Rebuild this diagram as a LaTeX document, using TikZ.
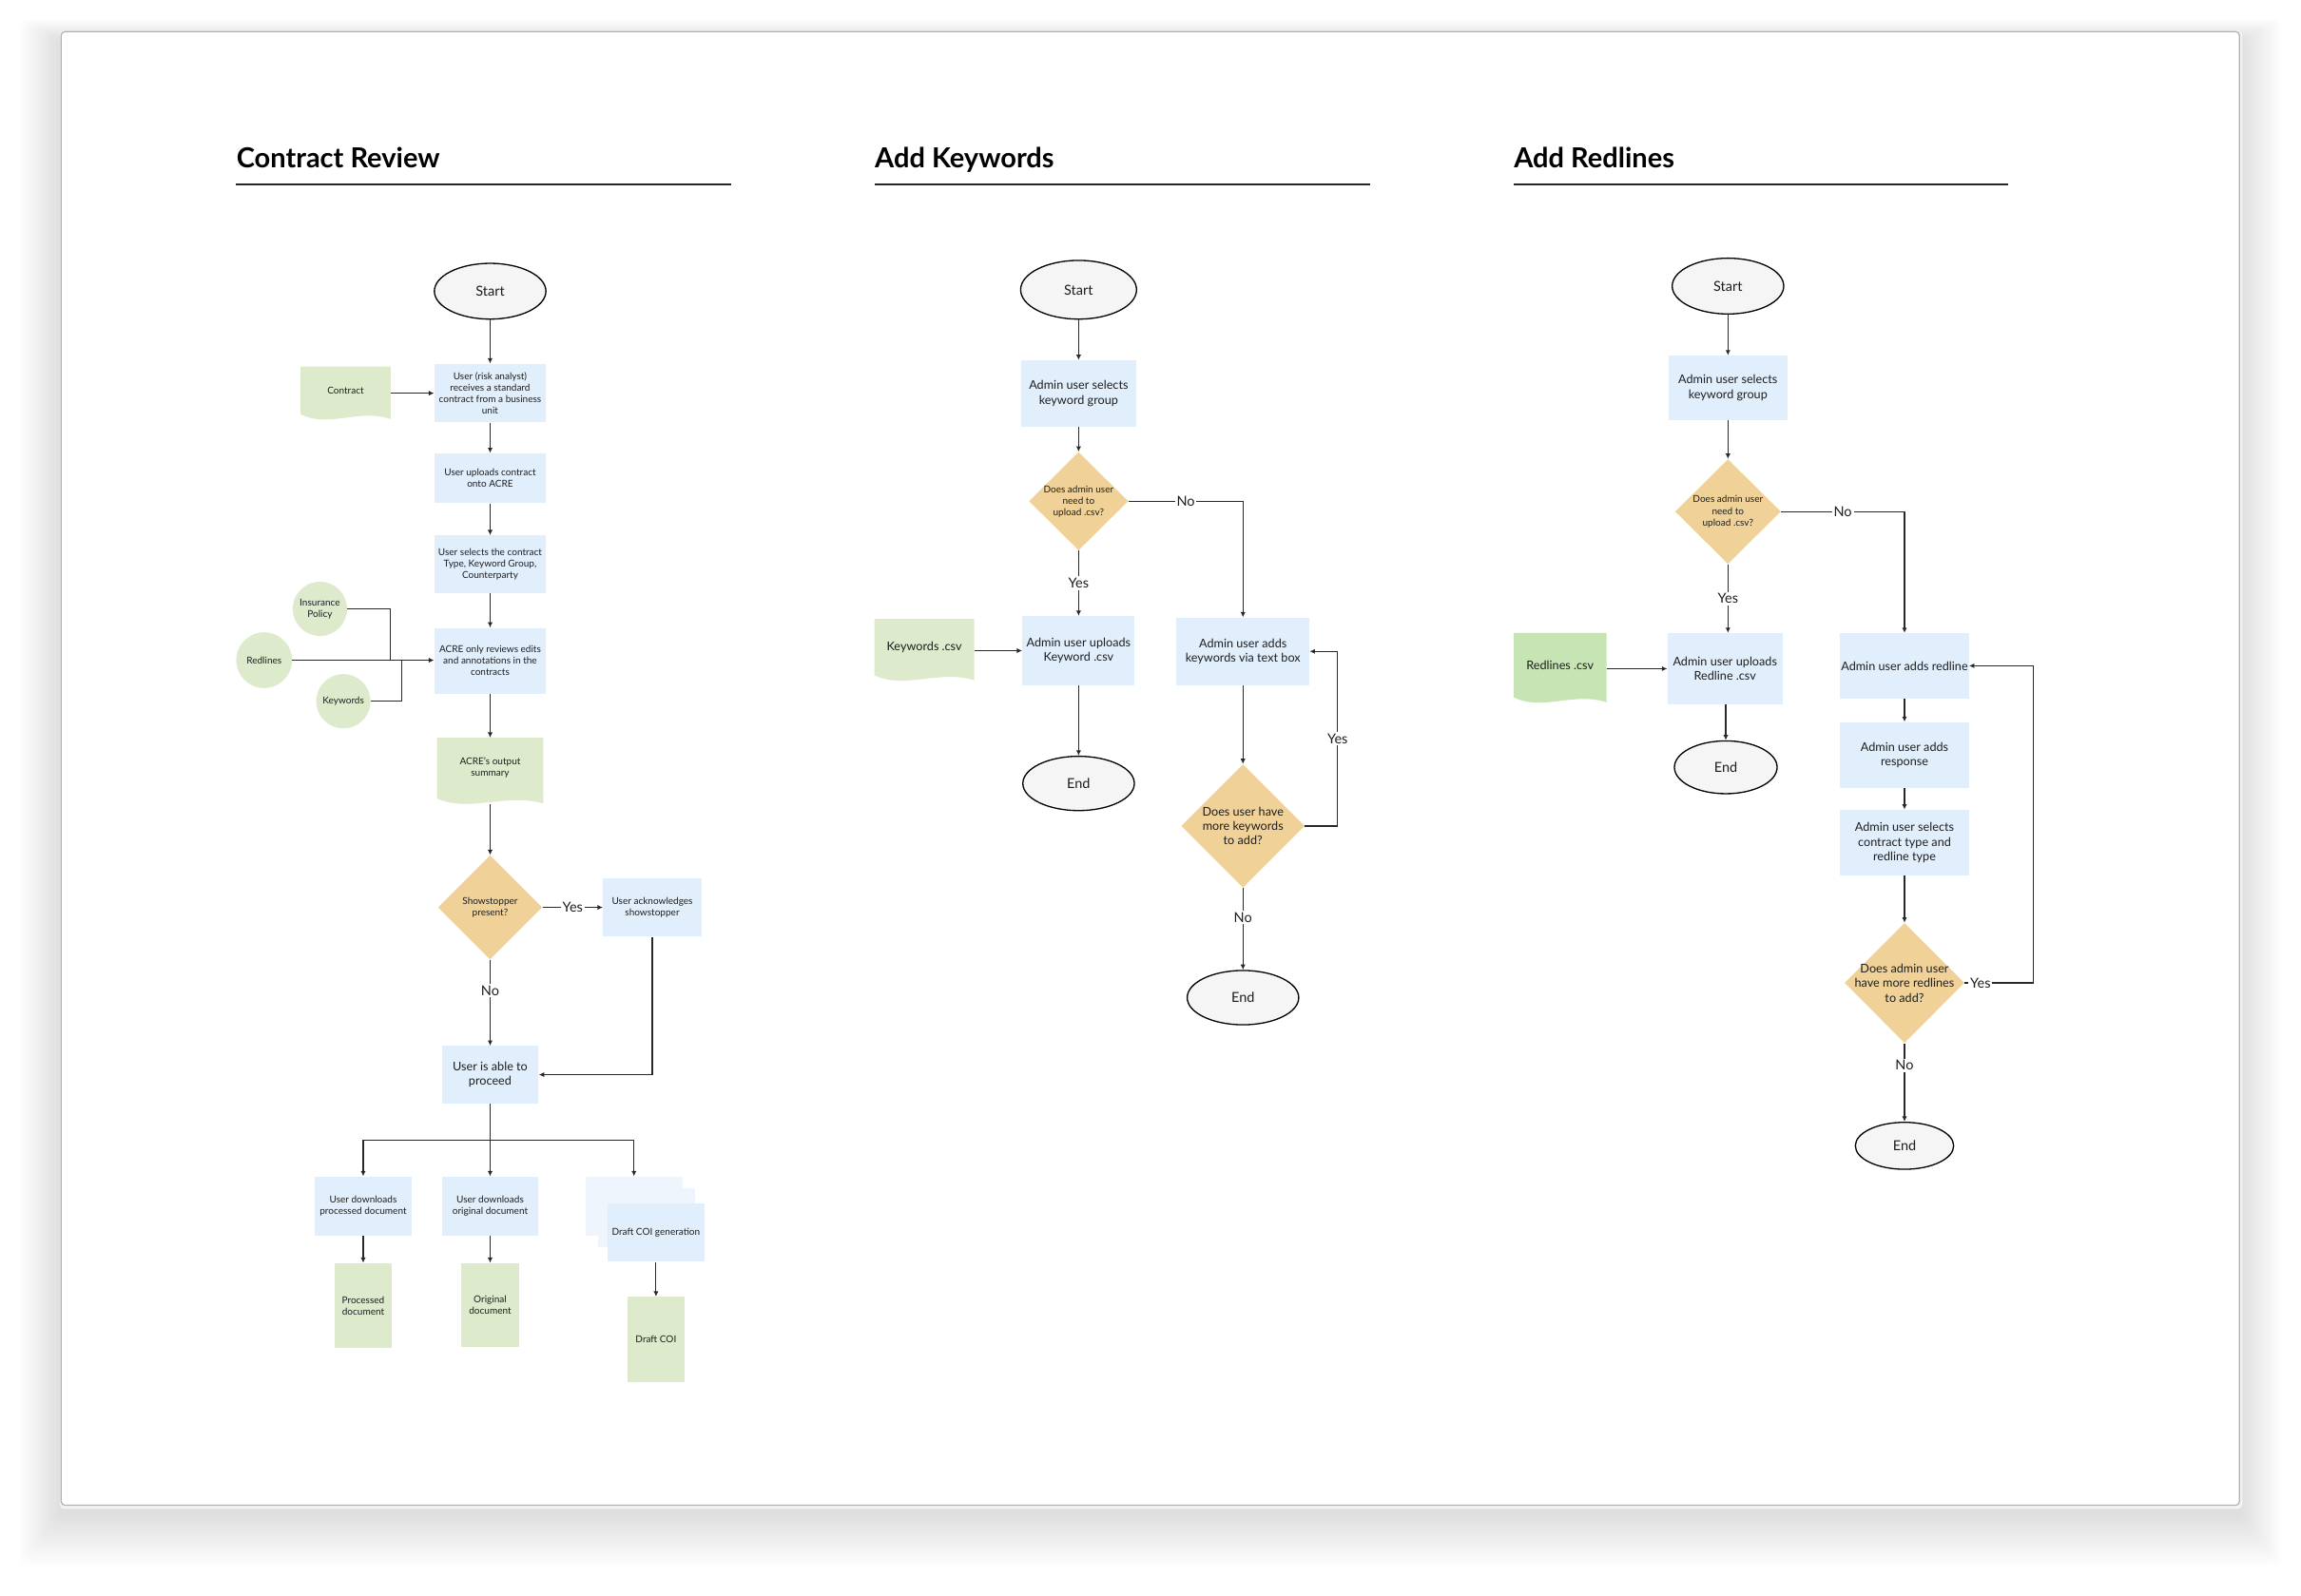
\documentclass[tikz,border=0pt]{standalone}
\usepackage{fontspec}
\setmainfont{Lato}
\usetikzlibrary{shapes.geometric,arrows.meta,calc,backgrounds}
\definecolor{boxblue}{RGB}{225,239,253}
\definecolor{boxblueL}{RGB}{238,245,253}
\definecolor{docgreen}{RGB}{221,234,204}
\definecolor{docgreenB}{RGB}{198,228,180}
\definecolor{decis}{RGB}{240,210,152}
\definecolor{termfill}{RGB}{245,245,245}
\definecolor{ink}{RGB}{30,30,30}
\definecolor{linec}{RGB}{40,40,40}
\newcommand\fntS{\fontsize{6.5}{7.8}\selectfont}
\newcommand\fntM{\fontsize{8.2}{10}\selectfont}
\newcommand\fntL{\fontsize{9.4}{10}\selectfont}
\newcommand\fntT{\fontsize{18.8}{22}\selectfont\bfseries}
\newcommand\docwave[2]{%
  \fill[#2] (#1.north west) -- (#1.north east) -- ($(#1.south east)+(0,3.5)$)
   .. controls ($(#1.south west)!0.65!(#1.south east)+(0,-4)$) and ($(#1.south west)!0.3!(#1.south east)+(0,10)$) .. (#1.south west) -- cycle;}
\tikzset{
  sz/.style 2 args={minimum width=#1pt, minimum height=#2pt},
  proc/.style={rectangle, fill=boxblue, align=center, inner sep=0pt, text=ink},
  docn/.style={rectangle, align=center, inner sep=0pt, text=ink},
  outbox/.style={rectangle, fill=docgreen, align=center, inner sep=0pt, text=ink},
  circ/.style={circle, fill=docgreen, align=center, inner sep=0pt, text=ink},
  decision/.style={diamond, fill=decis, inner sep=0pt},
  dtext/.style={align=center, inner sep=0pt, text=ink},
  term/.style={ellipse, fill=termfill, draw=black, line width=0.85pt, inner sep=0pt, text=ink, font=\fntL},
  conn/.style={draw=linec, line width=0.75pt, -{Latex[length=3.6pt,width=3.4pt]}},
  plain/.style={draw=linec, line width=0.75pt},
  lab/.style={fill=white, inner sep=1.2pt, font=\fntL, text=ink},
  title/.style={anchor=base west, font=\fntT, inner sep=0pt, text=black},
  rule/.style={draw=black!85, line width=1.1pt},
}
\begin{document}
\begin{tikzpicture}[x=1pt, y=-1pt]
\useasboundingbox (0,0) rectangle (1568,1087.3);
\begin{scope}[on background layer]
  \fill[white] (0,0) rectangle (1568,1087.3);
  \foreach \i in {1,...,16} {
    \fill[black, opacity=0.006, rounded corners=4pt] (41.7-1.8*\i, 21.6-0.9*\i+6) rectangle (1526+1.8*\i, 1026+2.2*\i+6);
  }
  \fill[black!5, rounded corners=3pt] (40.7,20.6) rectangle (1528,1028.5);
  \draw[draw=black!30, fill=white, line width=0.8pt, rounded corners=2.5pt] (41.7,21.6) rectangle (1526,1026);
\end{scope}

% titles
\node[title] (t1) at (161,114.5) {Contract Review};
\node[title] (t2) at (596,114.5) {Add Keywords};
\node[title] (t3) at (1031.5,114.5) {Add Redlines};
\draw[rule] (161,125.7) -- (498,125.7);
\draw[rule] (596,125.7) -- (933.5,125.7);
\draw[rule] (1031.5,125.7) -- (1368.5,125.7);

% ---------------- Contract Review
\node[term, sz={76}{38}] (cr_start) at (334,198.5) {Start};
\node[proc, font=\fntS, sz={76}{40}] (cr_b1) at (334,268) {User (risk analyst)\\receives a standard\\contract from a business\\unit};
\node[docn, font=\fntS, sz={61}{32}] (cr_contract) at (235.5,266) {Contract};
\node[proc, font=\fntS, sz={76}{34}] (cr_b2) at (334,326) {User uploads contract\\onto ACRE};
\node[proc, font=\fntS, sz={76}{39}] (cr_b3) at (334,384.5) {User selects the contract\\Type, Keyword Group,\\Counterparty};
\node[proc, font=\fntS, sz={76}{45}] (cr_b4) at (334,450.5) {ACRE only reviews edits\\and annotations in the\\contracts};
\node[circ, font=\fntS, minimum size=37pt] (cr_ins) at (218,415) {Insurance\\Policy};
\node[circ, font=\fntS, minimum size=38pt] (cr_red) at (180,450) {Redlines};
\node[circ, font=\fntS, minimum size=37pt] (cr_kw) at (234,478) {Keywords};
\node[docn, font=\fntS, sz={72}{41}] (cr_out) at (334,523.5) {ACRE's output\\summary};
\node[decision, sz={71}{71}] (cr_d1) at (334,618.5) {};
\node[dtext, font=\fntS] (cr_d1t) at (cr_d1) {Showstopper\\present?};
\node[proc, font=\fntS, sz={67}{40}] (cr_ack) at (444.5,618.5) {User acknowledges\\showstopper};
\node[proc, font=\fntM, sz={66}{39}] (cr_proc) at (334,732.5) {User is able to\\proceed};
\node[proc, font=\fntS, sz={66}{40}] (cr_dl1) at (247.5,822) {User downloads\\processed document};
\node[proc, font=\fntS, sz={66}{40}] (cr_dl2) at (334,822) {User downloads\\original document};
\node[proc, fill=boxblueL, sz={66}{40}] (cr_st1) at (432,822) {};
\node[proc, fill=boxblueL, sz={66}{40}] (cr_st2) at (440.6,830) {};
\node[proc, font=\fntS, sz={66}{40}] (cr_st3) at (447,840) {Draft COI generation};
\node[outbox, font=\fntS, sz={39}{58}] (cr_pd) at (247.5,890) {Processed\\document};
\node[outbox, font=\fntS, sz={39}{57}] (cr_od) at (334,889.5) {Original\\document};
\node[outbox, font=\fntS, sz={39}{58}] (cr_dc) at (447,913) {Draft COI};
\coordinate (cr_j1) at (266,450);
\coordinate (cr_j2) at (274,450);
\coordinate (cr_br) at (334,777);

% ---------------- Add Keywords
\node[term, sz={79}{40}] (ak_start) at (735,197.5) {Start};
\node[proc, font=\fntM, sz={78.5}{45.4}] (ak_b1) at (735,268.3) {Admin user selects\\keyword group};
\node[decision, sz={67.6}{67}] (ak_d1) at (735,341.6) {};
\node[dtext, font=\fntS] (ak_d1t) at (ak_d1) {Does admin user\\need to\\upload .csv?};
\node[docn, font=\fntM, sz={67.7}{38}] (ak_csv) at (629.85,441) {Keywords .csv};
\node[proc, font=\fntM, sz={76.5}{47}] (ak_b2) at (735,443.5) {Admin user uploads\\Keyword .csv};
\node[proc, font=\fntM, sz={90.5}{46}] (ak_b3) at (847,444) {Admin user adds\\keywords via text box};
\node[term, sz={76}{37}] (ak_end1) at (735,534) {End};
\node[decision, sz={84}{84}] (ak_d2) at (847,563) {};
\node[dtext, font=\fntM] (ak_d2t) at (ak_d2) {Does user have\\more keywords\\to add?};
\node[term, sz={76}{37}] (ak_end2) at (847,680) {End};

% ---------------- Add Redlines
\node[term, sz={76}{38}] (ar_start) at (1177.5,195) {Start};
\node[proc, font=\fntM, sz={80.6}{43.8}] (ar_b1) at (1177.5,264.3) {Admin user selects\\keyword group};
\node[decision, sz={72}{71.4}] (ar_d1) at (1177.5,348.7) {};
\node[dtext, font=\fntS] (ar_d1t) at (ar_d1) {Does admin user\\need to\\upload .csv?};
\node[docn, font=\fntM, sz={62.8}{43.4}] (ar_csv) at (1063.1,453.3) {Redlines .csv};
\node[proc, font=\fntM, sz={78.4}{48.4}] (ar_b2) at (1175.5,455.8) {Admin user uploads\\Redline .csv};
\node[term, sz={70}{36}] (ar_end1) at (1176,523) {End};
\node[proc, font=\fntM, sz={87.6}{44.4}] (ar_b3) at (1297.8,453.8) {Admin user adds redline};
\node[proc, font=\fntM, sz={87.8}{45}] (ar_b4) at (1297.8,514.75) {Admin user adds\\response};
\node[proc, font=\fntM, sz={87.8}{44.8}] (ar_b5) at (1297.8,574.4) {Admin user selects\\contract type and\\redline type};
\node[decision, sz={81.6}{81.8}] (ar_d2) at (1297.8,670) {};
\node[dtext, font=\fntM] (ar_d2t) at (ar_d2) {Does admin user\\have more redlines\\to add?};
\node[term, sz={67}{32}] (ar_end2) at (1297.8,781) {End};

% document shapes
\begin{scope}[on background layer]
  \docwave{cr_contract}{docgreen}
  \docwave{cr_out}{docgreen}
  \docwave{ak_csv}{docgreen}
  \docwave{ar_csv}{docgreenB}
\end{scope}

% ---------------- connectors: Contract Review
\draw[conn] (cr_start) -- (cr_b1);
\draw[conn] (cr_contract.east |- cr_b1) -- (cr_b1);
\draw[conn] (cr_b1) -- (cr_b2);
\draw[conn] (cr_b2) -- (cr_b3);
\draw[conn] (cr_b3) -- (cr_b4);
\draw[plain] (cr_ins) -| (cr_j1);
\draw[plain] (cr_kw) -| (cr_j2);
\draw[conn] (cr_red) -- (cr_red -| cr_b4.west);
\draw[conn] (cr_b4) -- (cr_out);
\draw[conn] ([yshift=-4pt]cr_out.south) -- (cr_d1);
\draw[conn] (cr_d1) -- node[lab]{Yes} (cr_ack);
\draw[conn] (cr_d1) -- node[lab, pos=0.36]{No} (cr_proc);
\draw[conn] (cr_ack) |- (cr_proc);
\draw[plain] (cr_proc) -- (cr_br);
\draw[conn] (cr_br) -| (cr_dl1);
\draw[conn] (cr_br) -- (cr_dl2);
\draw[conn] (cr_br) -| (cr_st1);
\draw[conn] (cr_dl1) -- (cr_pd);
\draw[conn] (cr_dl2) -- (cr_od);
\draw[conn] (cr_st3) -- (cr_dc);

% ---------------- connectors: Add Keywords
\draw[conn] (ak_start) -- (ak_b1);
\draw[conn] (ak_b1) -- (ak_d1);
\draw[conn] (ak_d1) -| node[lab, pos=0.25]{No} (ak_b3);
\draw[conn] (ak_d1) -- node[lab]{Yes} (ak_b2);
\draw[conn] (ak_csv.east |- ak_b2) -- (ak_b2);
\draw[conn] (ak_b2) -- (ak_end1);
\draw[conn] (ak_b3) -- (ak_d2);
\draw[conn] (ak_d2.east) -- ++(22.3,0) |- node[lab, pos=0.25]{Yes} (ak_b3.east);
\draw[conn] (ak_d2) -- node[lab, pos=0.36]{No} (ak_end2);

% ---------------- connectors: Add Redlines
\draw[conn] (ar_start) -- (ar_b1);
\draw[conn] (ar_b1) -- (ar_d1);
\draw[conn] (ar_d1) -| node[lab, pos=0.25]{No} (ar_b3);
\draw[conn] (ar_d1) -- node[lab]{Yes} (ar_d1 |- ar_b2.north);
\draw[conn] (ar_csv.east |- ar_b2) -- (ar_b2);
\draw[conn] (ar_b2.south -| ar_end1) -- (ar_end1);
\draw[conn] (ar_b3) -- (ar_b4);
\draw[conn] (ar_b4) -- (ar_b5);
\draw[conn] (ar_b5) -- (ar_d2);
\draw[conn] (ar_d2.east) -- node[lab, pos=0.23]{Yes} ++(46.8,0) |- (ar_b3.east);
\draw[conn] (ar_d2) -- node[lab, pos=0.28]{No} (ar_end2);
\end{tikzpicture}
\end{document}
